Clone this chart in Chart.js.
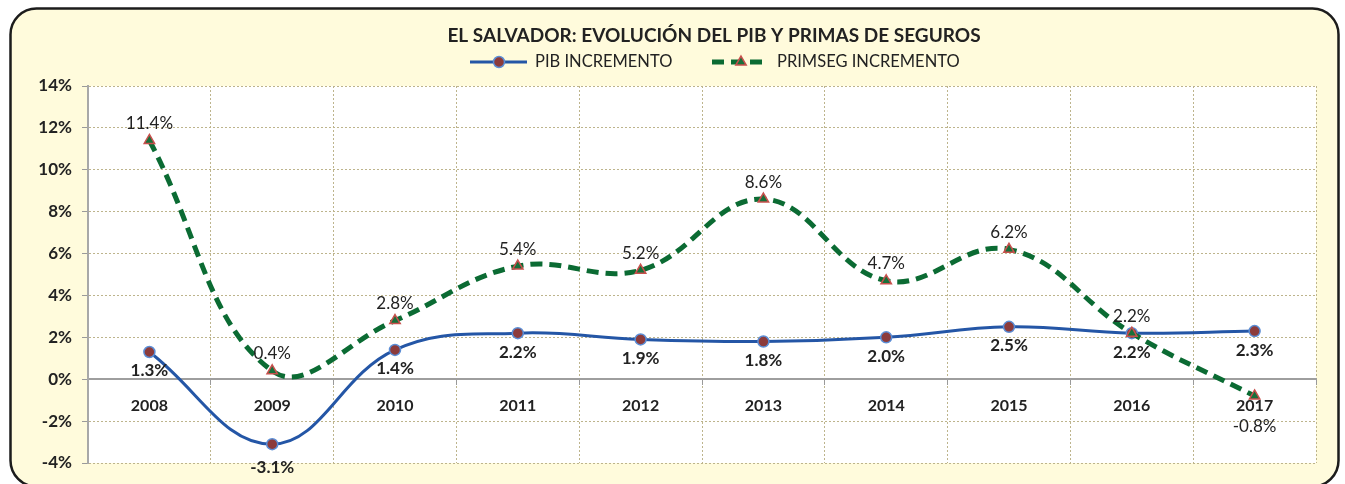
<!DOCTYPE html>
<html>
<head>
<meta charset="utf-8">
<script src="https://cdn.jsdelivr.net/npm/chart.js@4.4.1/dist/chart.umd.min.js"></script>
<style>
  html, body { margin: 0; padding: 0; background: #fff; }
  #wrap { width: 1345px; height: 484px; }
</style>
</head>
<body>
<div id="wrap"><canvas id="chart" width="1345" height="484"></canvas></div>
<script>
const title = 'EL SALVADOR: EVOLUCIÓN DEL PIB Y PRIMAS DE SEGUROS';
const years = ['2008', '2009', '2010', '2011', '2012', '2013', '2014', '2015', '2016', '2017'];
const pibIncremento = [1.3, -3.1, 1.4, 2.2, 1.9, 1.8, 2.0, 2.5, 2.2, 2.3];
const primsegIncremento = [11.4, 0.4, 2.8, 5.4, 5.2, 8.6, 4.7, 6.2, 2.2, -0.8];

const FONT = 'Lato, "Open Sans", sans-serif';
const TEXT = '#222';

// cream rounded frame and white plot area
const frame = {
  id: 'frame',
  beforeDraw(chart) {
    const c = chart.ctx, a = chart.chartArea;
    c.save();
    c.beginPath();
    c.roundRect(10.5, 8.5, 1328, 478, 26);
    c.fillStyle = '#FFFBDC';
    c.fill();
    c.lineWidth = 2.5;
    c.strokeStyle = '#1c1c1c';
    c.stroke();
    c.fillStyle = '#fff';
    c.fillRect(a.left, a.top, a.right - a.left, a.bottom - a.top);
    c.restore();
  }
};

// title and legend (line + marker)
const header = {
  id: 'header',
  afterDraw(chart) {
    const c = chart.ctx;
    c.save();
    c.fillStyle = TEXT;
    c.textAlign = 'center';
    c.textBaseline = 'middle';
    c.font = 'bold 19px ' + FONT;
    c.fillText(title, 714, 36);

    const items = [{ ds: chart.data.datasets[0], x: 470 }, { ds: chart.data.datasets[1], x: 712 }];
    items.forEach(({ ds, x }) => {
      const y = 62;
      c.save();
      c.strokeStyle = ds.borderColor;
      c.lineWidth = ds.borderWidth;
      c.setLineDash(ds.borderDash || []);
      c.beginPath();
      c.moveTo(x, y);
      c.lineTo(x + 57, y);
      c.stroke();
      c.restore();
      c.fillStyle = ds.pointBackgroundColor;
      c.strokeStyle = ds.pointBorderColor;
      c.lineWidth = ds.pointBorderWidth;
      Chart.helpers.drawPoint(c, {
        pointStyle: ds.pointStyle, radius: ds.pointRadius, borderWidth: ds.pointBorderWidth
      }, x + 29, y);
      c.fillStyle = TEXT;
      c.font = '16.5px ' + FONT;
      c.textAlign = 'left';
      c.fillText(ds.label, x + 65, y);
    });
    c.restore();
  }
};

// value labels
const valueLabels = {
  id: 'valueLabels',
  afterDatasetsDraw(chart) {
    const c = chart.ctx;
    c.save();
    c.fillStyle = TEXT;
    c.textAlign = 'center';
    c.textBaseline = 'middle';
    chart.data.datasets.forEach((ds, i) => {
      const meta = chart.getDatasetMeta(i);
      meta.data.forEach((pt, j) => {
        const v = ds.data[j];
        let dy;
        if (i === 0) {
          c.font = 'bold 17px ' + FONT;
          dy = v < 0 ? 23 : 19;
        } else {
          c.font = '17px ' + FONT;
          dy = v < 0 ? 31 : -17;
        }
        c.fillText(v.toFixed(1) + '%', pt.x, pt.y + dy);
      });
    });
    c.restore();
  }
};

new Chart(document.getElementById('chart'), {
  type: 'line',
  data: {
    labels: years,
    datasets: [
      {
        label: 'PIB INCREMENTO',
        data: pibIncremento,
        borderColor: '#2456A6',
        borderWidth: 3,
        tension: 0.4,
        pointStyle: 'circle',
        pointRadius: 5.5,
        pointBackgroundColor: '#8C3B3B',
        pointBorderColor: '#5B8ED6',
        pointBorderWidth: 1.5,
        order: 2
      },
      {
        label: 'PRIMSEG INCREMENTO',
        data: primsegIncremento,
        borderColor: '#0B6B33',
        borderWidth: 5,
        borderDash: [12, 7],
        tension: 0.4,
        pointStyle: 'triangle',
        pointRadius: 6,
        pointBackgroundColor: '#17703A',
        pointBorderColor: '#C8504D',
        pointBorderWidth: 1.5,
        order: 1
      }
    ]
  },
  options: {
    responsive: false,
    animation: false,
    clip: false,
    layout: { padding: { left: 10, right: 29, top: 86, bottom: 21 } },
    plugins: {
      legend: { display: false },
      title: { display: false },
      tooltip: { enabled: false }
    },
    scales: {
      x: {
        position: { y: 0 },
        offset: true,
        grid: {
          offset: true,
          color: '#BDB48C',
          lineWidth: 1,
          tickLength: 5,
          tickColor: '#9a9a9a'
        },
        border: { color: '#9E9E9E', width: 2, dash: [2, 2] },
        ticks: {
          color: TEXT,
          padding: 12,
          font: { family: FONT, size: 16, weight: 'bold' }
        }
      },
      y: {
        min: -4,
        max: 14,
        afterFit(scale) { scale.width = 78; },
        grid: {
          color: '#BDB48C',
          lineWidth: 1,
          tickLength: 6,
          tickColor: '#9a9a9a'
        },
        border: { color: '#A8A8A8', width: 2, dash: [2, 2] },
        ticks: {
          stepSize: 2,
          color: TEXT,
          padding: 10,
          font: { family: FONT, size: 17, weight: 'bold' },
          callback: v => v + '%'
        }
      }
    }
  },
  plugins: [frame, header, valueLabels]
});
</script>
</body>
</html>
